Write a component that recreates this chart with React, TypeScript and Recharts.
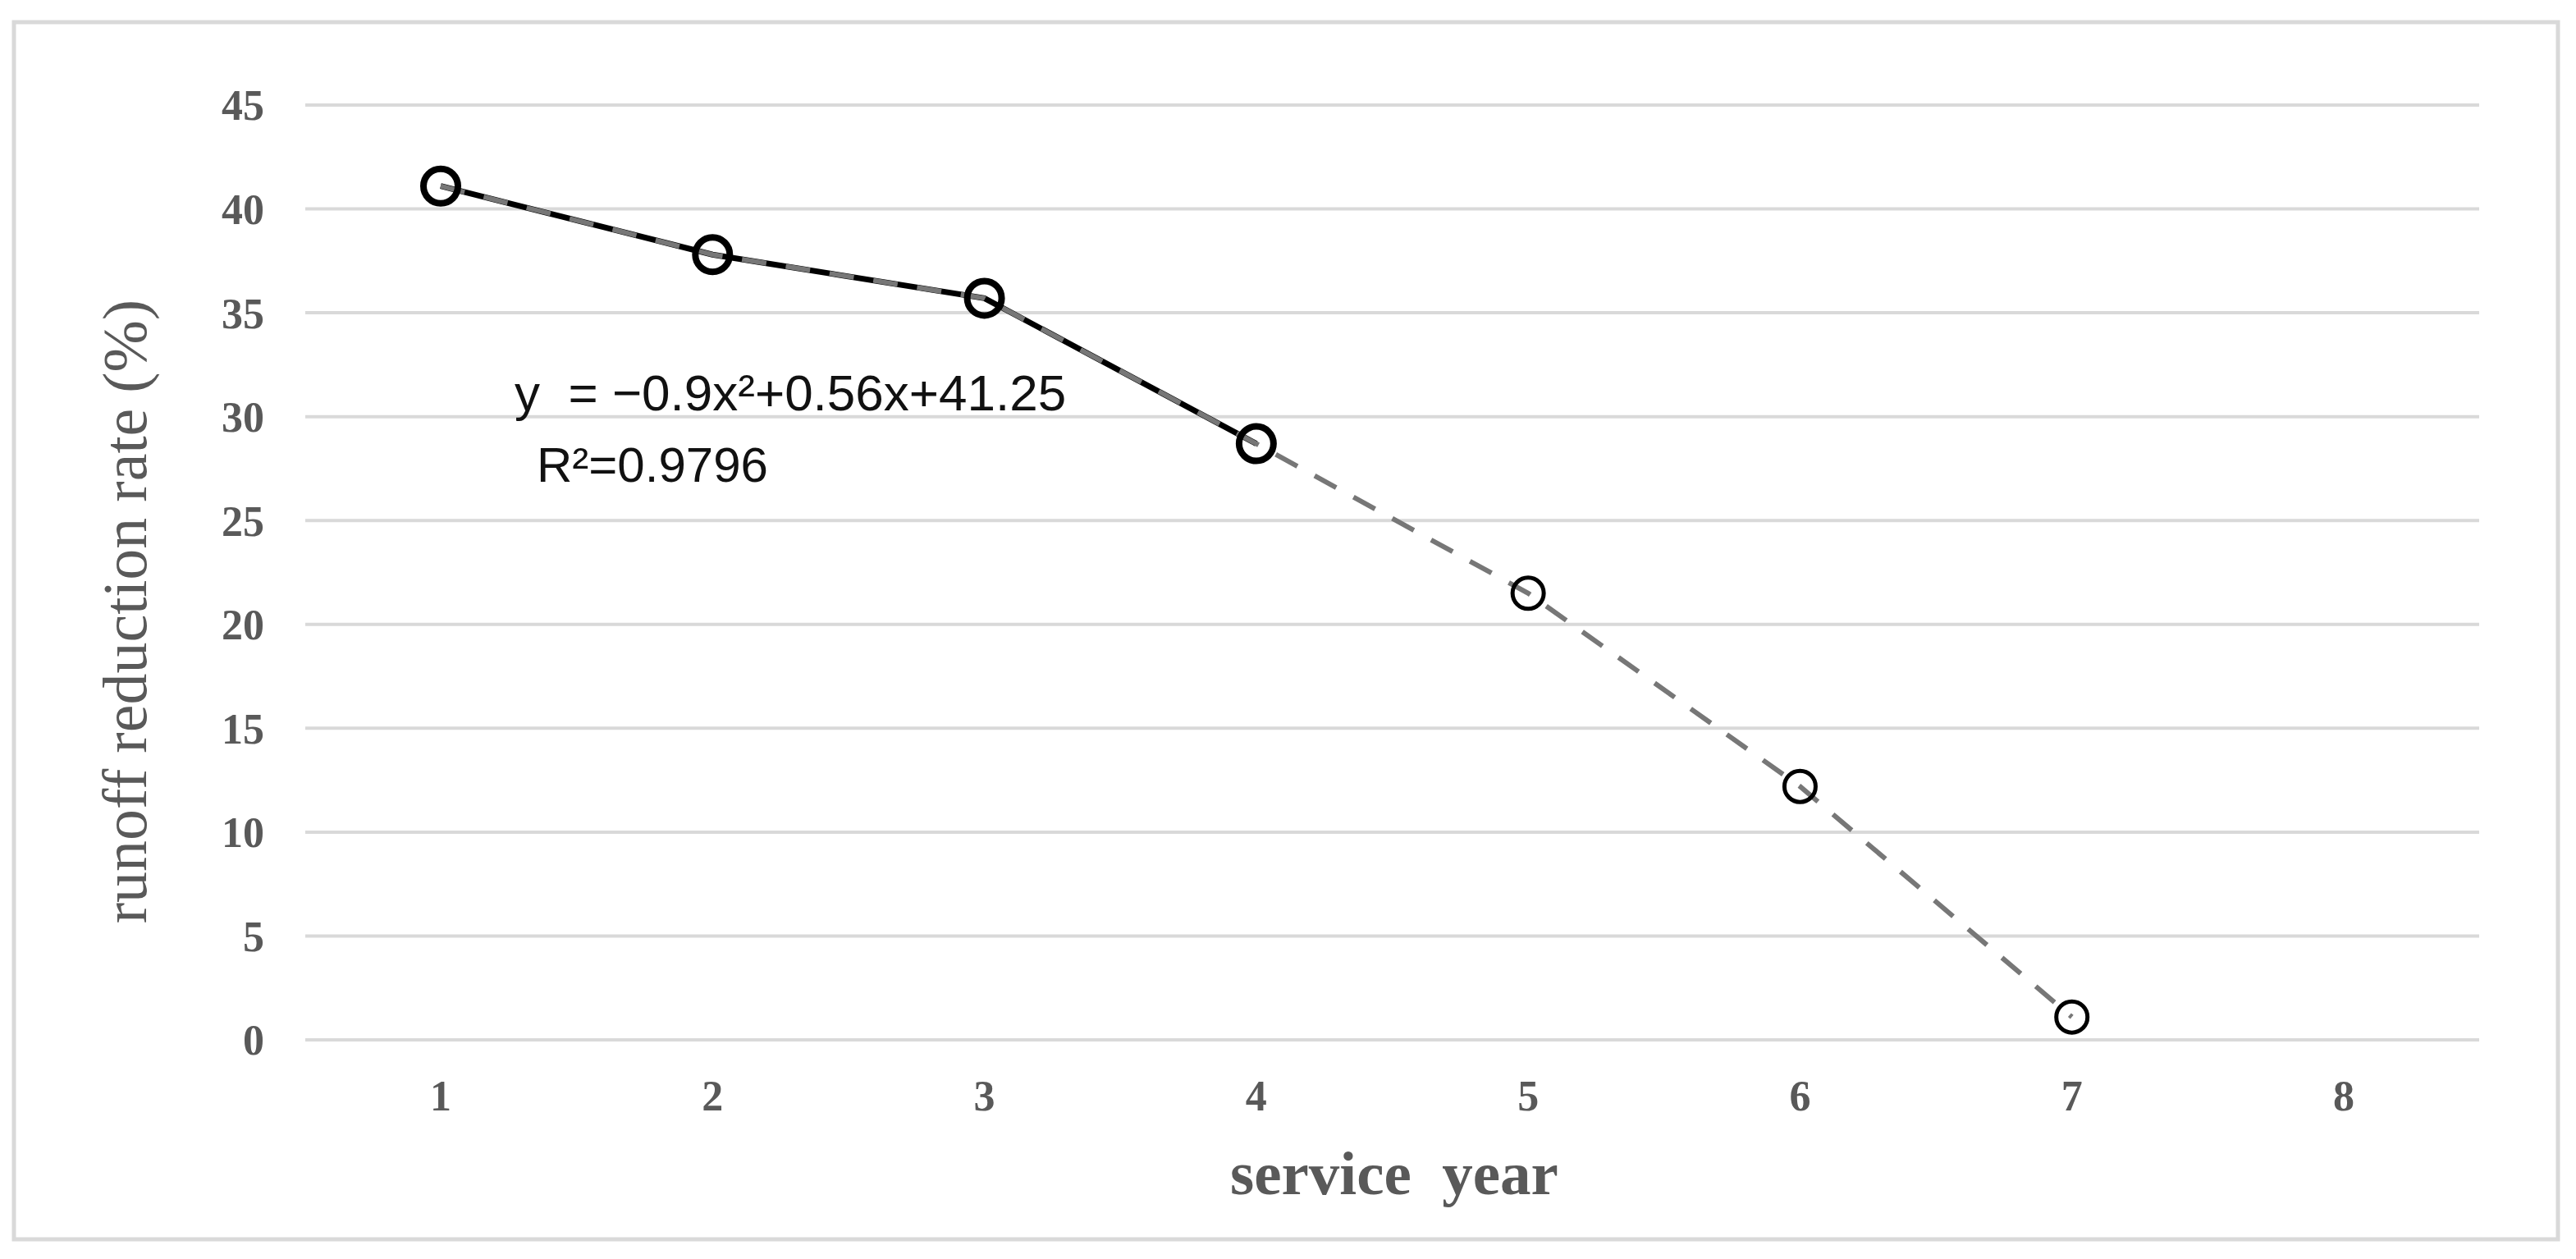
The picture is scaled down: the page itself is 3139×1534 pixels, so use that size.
import React from 'react';
import { LineChart, Line, XAxis, YAxis, CartesianGrid } from 'recharts';

// service year categories and runoff reduction rate (%)
const years = ['1', '2', '3', '4', '5', '6', '7', '8'];
const observed = [41.1, 37.8, 35.7, 28.7, null, null, null, null];
const fitted = [41.1, 37.8, 35.7, 28.7, 21.5, 12.2, 1.1, null];
const yTicks = [0, 5, 10, 15, 20, 25, 30, 35, 40, 45];

const equation = 'y\u00a0\u00a0=\u00a0\u22120.9x\u00b2+0.56x+41.25';
const rSquared = 'R\u00b2=0.9796';

const data = years.map((year, i) => ({
  year,
  observed: observed[i],
  fitted: fitted[i],
}));

const tickStyle = {
  fontFamily: '"Liberation Serif", "Times New Roman", serif',
  fontWeight: 700,
  fontSize: 52,
  fill: '#595959',
};

const renderDot = (props: any) => {
  const { cx, cy, index, value } = props;
  if (cx == null || cy == null || value == null) return <g key={`dot-${index}`} />;
  const measured = observed[index] != null;
  return (
    <circle
      key={`dot-${index}`}
      cx={cx}
      cy={cy}
      r={measured ? 21 : 19}
      fill="none"
      stroke="#000"
      strokeWidth={measured ? 8 : 5}
    />
  );
};

const App: React.FC = () => {
  return (
    <div style={{ position: 'absolute', left: 0, top: 0, width: 3139, height: 1534, background: '#fff' }}>
      <LineChart
        width={3139}
        height={1534}
        data={data}
        margin={{ top: 128, right: 118, bottom: 0, left: 0 }}
      >
        <CartesianGrid vertical={false} stroke="#d9d9d9" strokeWidth={4} />
        <XAxis
          dataKey="year"
          height={267}
          padding={{ left: 165, right: 165 }}
          axisLine={false}
          tickLine={false}
          tickSize={0}
          tickMargin={49}
          tick={tickStyle}
        />
        <YAxis
          width={372}
          domain={[0, 45]}
          ticks={yTicks}
          axisLine={false}
          tickLine={false}
          tickSize={0}
          tickMargin={50}
          tick={tickStyle}
        />
        {/* measured years, solid black */}
        <Line
          type="linear"
          dataKey="observed"
          stroke="#000"
          strokeWidth={7}
          dot={false}
          activeDot={false}
          isAnimationActive={false}
        />
        {/* fitted / projected, grey dashed */}
        <Line
          type="linear"
          dataKey="fitted"
          stroke="#777"
          strokeWidth={6}
          strokeDasharray="30 24"
          dot={renderDot}
          activeDot={false}
          isAnimationActive={false}
        />
      </LineChart>

      <svg
        width={3139}
        height={1534}
        style={{ position: 'absolute', left: 0, top: 0, pointerEvents: 'none' }}
      >
        <rect x={17} y={27} width={3100} height={1483} fill="none" stroke="#d9d9d9" strokeWidth={5} />
        <text
          x={627}
          y={500}
          fontFamily='"Liberation Sans", Arial, sans-serif'
          fontSize={62}
          fill="#111"
        >
          {equation}
        </text>
        <text
          x={654}
          y={587}
          fontFamily='"Liberation Sans", Arial, sans-serif'
          fontSize={60}
          fill="#111"
        >
          {rSquared}
        </text>
        <text
          x={1699}
          y={1455}
          textAnchor="middle"
          fontFamily='"Liberation Serif", "Times New Roman", serif'
          fontWeight={700}
          fontSize={75}
          fill="#595959"
        >
          {'service\u00a0 year'}
        </text>
        <text
          x={178}
          y={745}
          textAnchor="middle"
          transform="rotate(-90 178 745)"
          fontFamily='"Liberation Serif", "Times New Roman", serif'
          fontSize={76}
          fill="#595959"
        >
          runoff reduction rate (%)
        </text>
      </svg>
    </div>
  );
};

export default App;
